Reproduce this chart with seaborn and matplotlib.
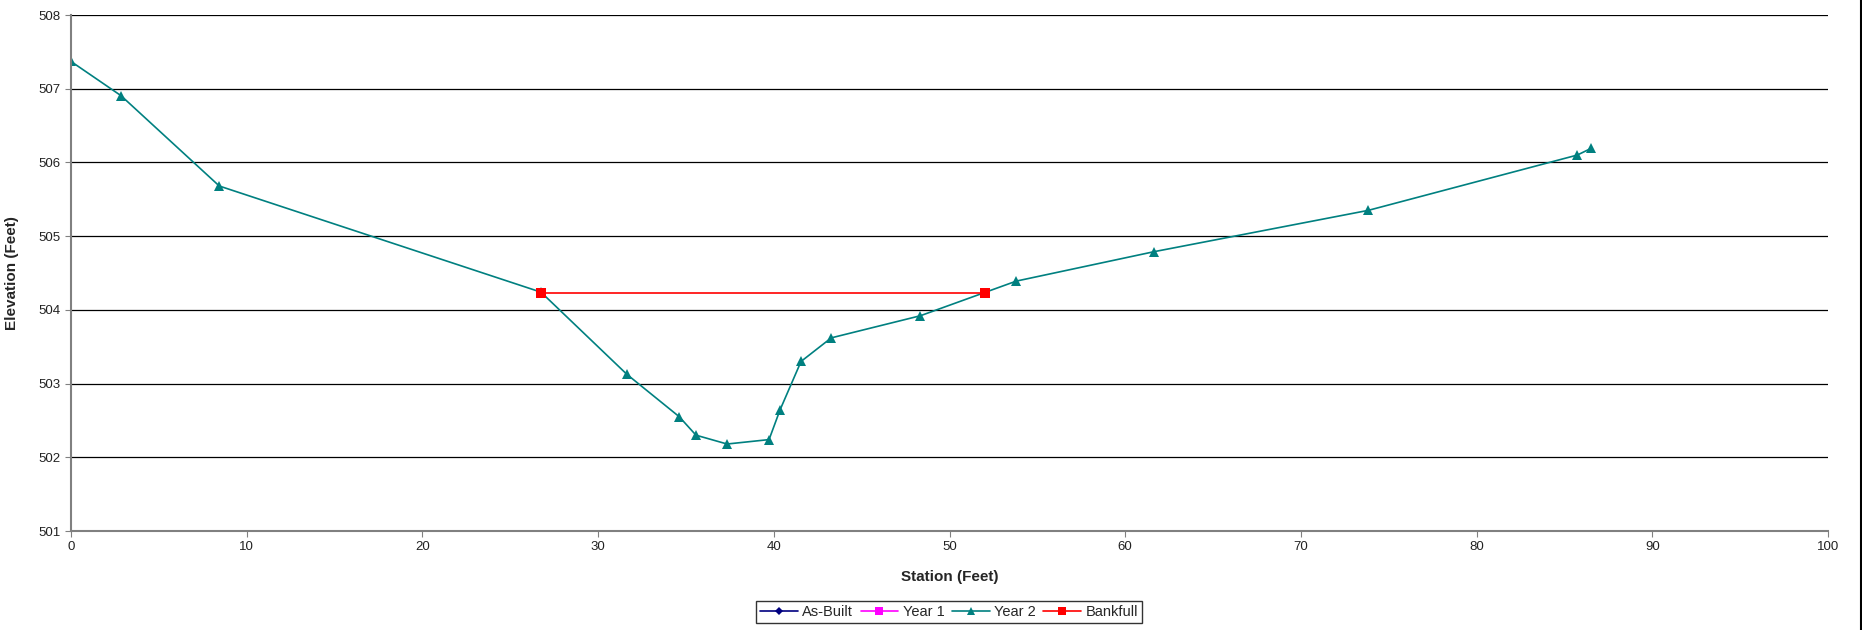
import pandas as pd
import numpy as np
import seaborn as sns
import matplotlib.pyplot as plt
from matplotlib.lines import Line2D

# Year 2 cross-section survey
station_y2 = [0.0, 2.85, 8.44, 26.75, 31.64, 34.62, 35.57, 37.34, 39.73, 40.35,
              41.55, 43.27, 48.34, 53.80, 61.66, 73.84, 85.73, 86.51]
elev_y2 = [507.37, 506.905, 505.68, 504.24, 503.125, 502.55, 502.30, 502.18, 502.24, 502.64,
           503.30, 503.62, 503.92, 504.39, 504.79, 505.35, 506.10, 506.19]

# bankfull line
station_bkf = [26.75, 52.0]
elev_bkf = [504.235, 504.235]

series_names = ["As-Built", "Year 1", "Year 2", "Bankfull"]
colors = {"As-Built": "#000080", "Year 1": "#FF00FF", "Year 2": "#008080", "Bankfull": "#FF0000"}
markers = {"As-Built": "D", "Year 1": "s", "Year 2": "^", "Bankfull": "s"}

sns.set_style("white")
plt.rcParams['font.family'] = ['Liberation Sans', 'DejaVu Sans']

df = pd.concat([
    pd.DataFrame({"station": station_y2, "elev": elev_y2, "series": "Year 2"}),
    pd.DataFrame({"station": station_bkf, "elev": elev_bkf, "series": "Bankfull"}),
], ignore_index=True)

fig = plt.figure(figsize=(18.62, 6.30), dpi=100)
ax = fig.add_axes([71 / 1862, 1 - 531 / 630, (1828 - 71) / 1862, (531 - 15) / 630])

for name in ["Year 2", "Bankfull"]:
    sub = df[df["series"] == name]
    sns.lineplot(data=sub, x="station", y="elev", ax=ax, color=colors[name], marker=markers[name],
                 markersize=7, markeredgewidth=0, linewidth=1.2, sort=False, estimator=None,
                 zorder=3 if name == "Bankfull" else 2)

ax.set_xlim(0, 100)
ax.set_ylim(501, 508)
ax.set_xticks(np.arange(0, 101, 10))
ax.set_yticks(np.arange(501, 509, 1))
ax.yaxis.grid(True, color="black", linewidth=0.9)
ax.xaxis.grid(False)
ax.tick_params(axis="both", labelsize=9.5, length=4, direction="out", color="#808080",
               bottom=True, left=True, colors="#222222")
for side in ["top", "right"]:
    ax.spines[side].set_visible(False)
for side in ["left", "bottom"]:
    ax.spines[side].set_color("#808080")
    ax.spines[side].set_linewidth(1.5)

ax.set_xlabel("Station (Feet)", fontsize=11, fontweight="bold", labelpad=12)
ax.set_ylabel("Elevation (Feet)", fontsize=11, fontweight="bold", labelpad=14)

handles = [Line2D([], [], color=colors[n], marker=markers[n], markersize=6 if n != "As-Built" else 4.5,
                  markeredgewidth=0, linewidth=1.2) for n in series_names]
leg = fig.legend(handles, series_names, loc="center", bbox_to_anchor=(949 / 1862, 1 - 612 / 630),
                 ncol=4, fontsize=10.5, frameon=True, fancybox=False, handlelength=2.6,
                 columnspacing=0.5, handletextpad=0.3, borderpad=0.25)
leg.get_frame().set_edgecolor("black")
leg.get_frame().set_linewidth(1)

# chart area border on the right edge
fig.add_artist(Line2D([1 - 1 / 1862, 1 - 1 / 1862], [0, 1], color="black", linewidth=1.5,
                      transform=fig.transFigure))

fig.savefig("out.png", dpi=100)
